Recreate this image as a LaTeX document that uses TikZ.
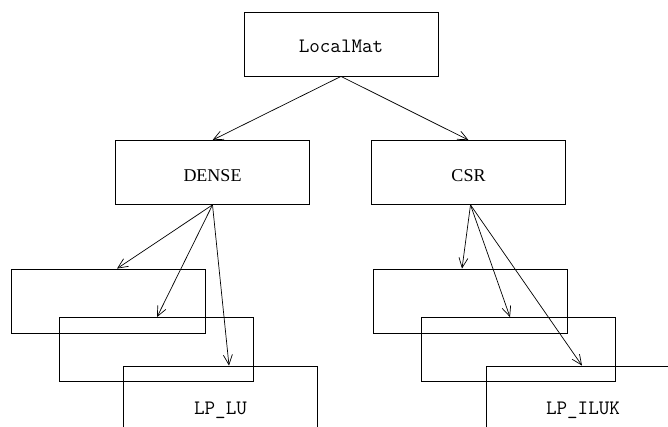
\documentclass[tikz,border=0pt]{standalone}
\usepackage{fontspec}
\setmainfont{Liberation Serif}
\usetikzlibrary{arrows.meta}
\begin{document}
\begin{tikzpicture}[x=1pt,y=-1pt,
  box/.style={draw, line width=0.8pt, rectangle, inner sep=0pt,
    minimum width=194pt, minimum height=64pt},
  tallbox/.style={box, minimum height=80pt},
  codetext/.style={font=\ttfamily\fontsize{20.5}{24}\selectfont,
    text height=17.5pt, text depth=0pt},
  serftext/.style={font=\fontsize{18}{21}\selectfont,
    text height=18pt, text depth=0pt},
  link/.style={line width=0.7pt, -{Straight Barb[length=10pt,width=9pt,line width=0.7pt]}}]
\useasboundingbox (0,0) rectangle (668,426);
\begin{scope}
\clip (0,0) rectangle (668,426);
% top level
\node[box, codetext] (local) at (341,44) {LocalMat};
% matrix formats
\node[box, serftext] (dense) at (212.5,172.5) {DENSE};
\node[box, serftext] (csr) at (468.5,172.5) {CSR};
% solver stacks under DENSE
\node[box] (l1) at (108,301) {};
\node[box] (l2) at (156.5,349.5) {};
\node[tallbox, codetext] (l3) at (220.5,406) {LP\_LU};
% solver stacks under CSR
\node[box] (r1) at (470,301) {};
\node[box] (r2) at (518.5,349.5) {};
\node[tallbox, codetext] (r3) at (583,406) {LP\_ILUK};
% connectors
\draw[link] (local.south) -- (dense.north);
\draw[link] (local.south) -- (csr.north);
\draw[link] (dense.south) -- ([xshift=9pt]l1.north);
\draw[link] (dense.south) -- ([xshift=0.5pt]l2.north);
\draw[link] (dense.south) -- ([xshift=8.5pt]l3.north);
\draw[link] ([xshift=2pt]csr.south) -- ([xshift=-8pt]r1.north);
\draw[link] ([xshift=2pt]csr.south) -- ([xshift=-8.5pt]r2.north);
\draw[link] ([xshift=2pt]csr.south) -- ([xshift=-1pt]r3.north);
\end{scope}
\end{tikzpicture}
\end{document}
